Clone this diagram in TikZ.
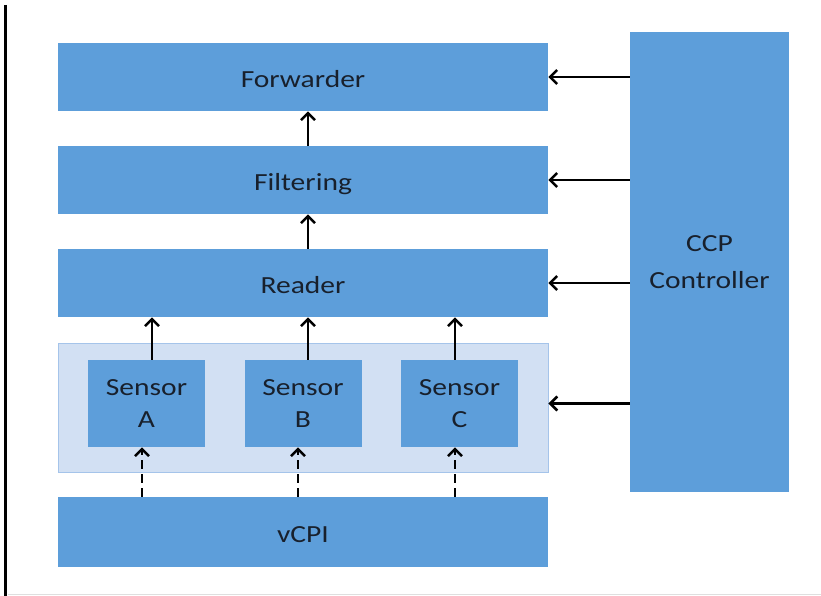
\documentclass[tikz,border=0pt]{standalone}
\usepackage{fontspec}
\setmainfont{Carlito}[FakeStretch=1.2]
\usepackage{tikz}
\usetikzlibrary{arrows.meta}
\definecolor{boxblue}{RGB}{93,158,218}
\definecolor{grpfill}{RGB}{210,224,243}
\definecolor{grpline}{RGB}{165,196,234}
\definecolor{txt}{RGB}{24,32,44}
\tikzstyle{layer}=[rectangle, fill=boxblue, text=txt, inner sep=0pt, minimum width=12.25cm, minimum height=1.7cm, align=center, font=\fontsize{17.5}{22.5}\selectfont]
\tikzstyle{single}=[layer, text height=0.6cm, text depth=0.05cm]
\tikzstyle{sensor}=[layer, minimum width=2.925cm, minimum height=2.175cm]
\tikzstyle{group}=[rectangle, fill=grpfill, draw=grpline, line width=0.6pt, inner sep=0pt, minimum width=12.25cm, minimum height=3.225cm]
\tikzstyle{flow}=[line width=1.8pt, -{Straight Barb[length=5pt,width=10pt]}]
\tikzstyle{feed}=[flow, dash pattern=on 6pt off 4pt]

\begin{document}
\begin{tikzpicture}
				\useasboundingbox (0,0) rectangle (20.525,14.9);
				%The frame
				\draw[line width=2.2pt] (0.1375,14.775) -- (0.1375,0);
				\draw[gray!25, line width=0.6pt] (0.2,0.03) -- (20.525,0.03);
				
				%The stack
				\draw (7.575,12.975) node[single] (fwd) {Forwarder};
				\draw (7.575,10.4) node[single] (filt) {Filtering};
				\draw (7.575,7.825) node[single] (read) {Reader};
				\draw (7.575,4.7125) node[group] (grp) {};
				\draw (7.575,1.6) node[single, minimum height=1.75cm] (vcpi) {vCPI};
				
				%The sensors
				\draw (3.6625,4.8125) node[sensor] (sA) {Sensor\\A};
				\draw (7.575,4.8125) node[sensor] (sB) {Sensor\\B};
				\draw (11.4875,4.8125) node[sensor] (sC) {Sensor\\C};
				
				%The controller
				\draw (17.7375,8.35) node[layer, minimum width=3.975cm, minimum height=11.5cm] (ccp) {CCP\\[0.15cm]Controller};
				
				\draw[flow] ([xshift=0.125cm]filt.north) -- ([xshift=0.125cm]fwd.south);
				\draw[flow] ([xshift=0.125cm]read.north) -- ([xshift=0.125cm]filt.south);
				\draw[flow] ([xshift=0.1375cm]sA.north) -- ([xshift=0.1375cm]sA.north |- read.south);
				\draw[flow] ([xshift=0.125cm]sB.north) -- ([xshift=0.125cm]sB.north |- read.south);
				\draw[flow] ([xshift=-0.1125cm]sC.north) -- ([xshift=-0.1125cm]sC.north |- read.south);
				\draw[feed] ([xshift=-0.1125cm]sA.south |- vcpi.north) -- ([xshift=-0.1125cm]sA.south);
				\draw[feed] ([xshift=-0.125cm]sB.south |- vcpi.north) -- ([xshift=-0.125cm]sB.south);
				\draw[feed] ([xshift=-0.1125cm]sC.south |- vcpi.north) -- ([xshift=-0.1125cm]sC.south);
				\draw[flow] (ccp.west |- fwd.east) -- (fwd.east);
				\draw[flow] (ccp.west |- filt.east) -- (filt.east);
				\draw[flow] (ccp.west |- read.east) -- (read.east);
				\draw[flow] (ccp.west |- sA.center) -- (grp.east |- sA.center);
			\end{tikzpicture}
\end{document}
